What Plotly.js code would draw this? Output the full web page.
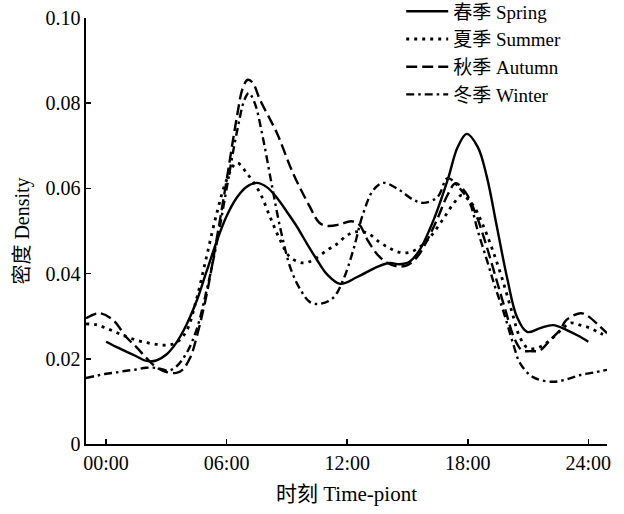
<!DOCTYPE html>
<html>
<head>
<meta charset="utf-8">
<script src="https://cdn.plot.ly/plotly-3.0.1.min.js"></script>
<style>
html,body{margin:0;padding:0;background:#fff;}
#chart{width:624px;height:514px;}
</style>
</head>
<body>
<div id="chart"></div>
<script>
// Hours (x) and density (y)
const springHours = [0, 0.5, 1, 1.5, 2, 2.5, 3, 3.5, 4, 4.5, 5, 5.5, 6, 6.5, 7, 7.5, 8, 8.5, 9, 9.5, 10, 10.5, 11, 11.65, 12.5, 13.5, 14.1, 14.6, 15.1, 15.6, 16.3, 17, 17.5, 17.95, 18.5, 18.95, 19.45, 19.95, 20.45, 20.95, 21.6, 22.25, 22.9, 23.5, 24];
const springDensity = [0.024, 0.0228, 0.0217, 0.0206, 0.0195, 0.0196, 0.021, 0.0238, 0.028, 0.0335, 0.0405, 0.0475, 0.0535, 0.0578, 0.0604, 0.0613, 0.0603, 0.0578, 0.0545, 0.051, 0.047, 0.0432, 0.0398, 0.0376, 0.0392, 0.0416, 0.0425, 0.0422, 0.0428, 0.0455, 0.0526, 0.062, 0.0697, 0.0728, 0.0697, 0.0627, 0.051, 0.0392, 0.0298, 0.0263, 0.0272, 0.0279, 0.0268, 0.0254, 0.024];

const summerHours = [-1, -0.5, 0, 0.5, 1, 1.5, 2, 2.5, 3, 3.5, 4, 4.5, 5, 5.5, 6, 6.5, 7, 7.66, 8.16, 8.66, 9.15, 9.8, 10.3, 11, 11.5, 12, 12.4, 13, 13.6, 14.1, 14.6, 15.1, 15.6, 16.2, 16.8, 17.3, 17.7, 18.2, 18.7, 19.2, 19.7, 20.2, 20.6, 21, 21.6, 22.2, 22.7, 23.1, 23.6, 24.1, 24.6, 24.93];
const summerDensity = [0.0282, 0.028, 0.0272, 0.0262, 0.0252, 0.0244, 0.0238, 0.0234, 0.0232, 0.0238, 0.0265, 0.034, 0.044, 0.054, 0.062, 0.066, 0.0636, 0.0589, 0.0533, 0.0479, 0.0439, 0.0425, 0.0432, 0.0455, 0.047, 0.049, 0.0498, 0.0495, 0.0474, 0.046, 0.045, 0.045, 0.0462, 0.049, 0.053, 0.0565, 0.0584, 0.0565, 0.052, 0.046, 0.039, 0.031, 0.025, 0.0225, 0.0228, 0.0248, 0.027, 0.0284, 0.0279, 0.0272, 0.026, 0.0255];

const autumnHours = [-1, -0.35, 0.35, 1, 1.5, 2, 2.5, 3, 3.5, 3.8, 4.2, 4.5, 5, 5.5, 6, 6.5, 6.8, 7.05, 7.3, 7.66, 8.5, 9.3, 10.15, 10.6, 11, 11.6, 12.2, 12.6, 13, 13.5, 14, 14.5, 15, 15.5, 16, 16.5, 17, 17.4, 17.9, 18.4, 18.9, 19.4, 19.9, 20.3, 20.7, 21.1, 21.6, 22.1, 22.6, 22.9, 23.6, 23.9, 24.6, 24.93];
const autumnDensity = [0.0295, 0.0307, 0.0291, 0.0251, 0.0228, 0.0202, 0.018, 0.0169, 0.0167, 0.0174, 0.0204, 0.025, 0.035, 0.048, 0.062, 0.0765, 0.0835, 0.0855, 0.0848, 0.0808, 0.073, 0.0636, 0.0556, 0.052, 0.0512, 0.0515, 0.0523, 0.0515, 0.048, 0.0445, 0.0425, 0.0417, 0.042, 0.044, 0.048, 0.053, 0.0585, 0.0612, 0.059, 0.054, 0.047, 0.039, 0.031, 0.025, 0.022, 0.0218, 0.022, 0.0244, 0.0268, 0.0291, 0.0307, 0.0303, 0.0275, 0.026];

const winterHours = [-1, -0.5, 0, 0.5, 1, 1.5, 2, 2.6, 3.1, 3.5, 4, 4.5, 5, 5.5, 6, 6.5, 6.9, 7.1, 7.4, 7.8, 8.2, 8.7, 9.2, 9.7, 10.15, 10.65, 11.3, 11.8, 12.3, 12.8, 13.3, 13.8, 14.6, 15.3, 15.8, 16.5, 17.0, 17.6, 18.1, 18.5, 18.95, 19.35, 19.75, 20.25, 20.6, 21.25, 22.25, 23, 23.6, 24.3, 24.93];
const winterDensity = [0.0155, 0.016, 0.0165, 0.0168, 0.0172, 0.0175, 0.0179, 0.0178, 0.0172, 0.0182, 0.0213, 0.0268, 0.036, 0.047, 0.06, 0.073, 0.081, 0.0824, 0.080, 0.072, 0.062, 0.05, 0.041, 0.036, 0.0333, 0.0329, 0.0343, 0.0385, 0.0455, 0.0542, 0.0596, 0.0613, 0.0596, 0.0573, 0.0566, 0.058, 0.0624, 0.060, 0.0566, 0.050, 0.0432, 0.037, 0.0315, 0.0237, 0.019, 0.0157, 0.0146, 0.0153, 0.0162, 0.0168, 0.0174];

const seriesNames = ['春季 Spring', '夏季 Summer', '秋季 Autumn', '冬季 Winter'];
const xTickVals = [0, 6, 12, 18, 24];
const xTickText = ['00:00', '06:00', '12:00', '18:00', '24:00'];
const yTickVals = [0, 0.02, 0.04, 0.06, 0.08, 0.10];
const yTickText = ['0', '0.02', '0.04', '0.06', '0.08', '0.10'];

const FONT = '"Liberation Serif", "Times New Roman", "Noto Sans CJK SC", serif';
const lineBase = {color: '#000', shape: 'spline', smoothing: 1, width: 2.4};

const traces = [
  {x: springHours, y: springDensity, name: seriesNames[0], mode: 'lines', line: Object.assign({}, lineBase, {dash: 'solid'})},
  {x: summerHours, y: summerDensity, name: seriesNames[1], mode: 'lines', line: Object.assign({}, lineBase, {dash: '3px,5px', width: 2.8})},
  {x: autumnHours, y: autumnDensity, name: seriesNames[2], mode: 'lines', line: Object.assign({}, lineBase, {dash: '11px,5px'})},
  {x: winterHours, y: winterDensity, name: seriesNames[3], mode: 'lines', line: Object.assign({}, lineBase, {dash: '8px,4px,2.5px,4px'})}
];

const layout = {
  width: 624, height: 514,
  margin: {l: 86, r: 17, t: 18, b: 70, pad: 0, autoexpand: false},
  paper_bgcolor: '#fff', plot_bgcolor: '#fff',
  font: {family: FONT, color: '#000', size: 20},
  showlegend: true,
  legend: {
    x: 0.605, xanchor: 'left', y: 1.06, yanchor: 'top',
    bgcolor: 'rgba(0,0,0,0)', borderwidth: 0,
    font: {family: FONT, size: 19, color: '#000'},
    itemwidth: 42, tracegroupgap: 0
  },
  xaxis: {
    range: [-1, 24.93], showgrid: false, zeroline: false,
    showline: true, linecolor: '#000', linewidth: 1.6, mirror: false,
    ticks: 'inside', ticklen: 5, tickwidth: 1.6, tickcolor: '#000',
    tickvals: xTickVals, ticktext: xTickText,
    tickfont: {family: FONT, size: 20, color: '#000'},
    title: {text: '时刻 Time-piont', font: {family: FONT, size: 21, color: '#000'}, standoff: 14}
  },
  yaxis: {
    range: [0, 0.1], showgrid: false, zeroline: false,
    showline: true, linecolor: '#000', linewidth: 1.6, mirror: false,
    ticks: 'inside', ticklen: 5, tickwidth: 1.6, tickcolor: '#000',
    tickvals: yTickVals, ticktext: yTickText,
    tickfont: {family: FONT, size: 20, color: '#000'},
    title: {text: '密度 Density', font: {family: FONT, size: 20, color: '#000'}, standoff: 10}
  }
};

Plotly.newPlot('chart', traces, layout, {displayModeBar: false, staticPlot: true});
</script>
</body>
</html>
